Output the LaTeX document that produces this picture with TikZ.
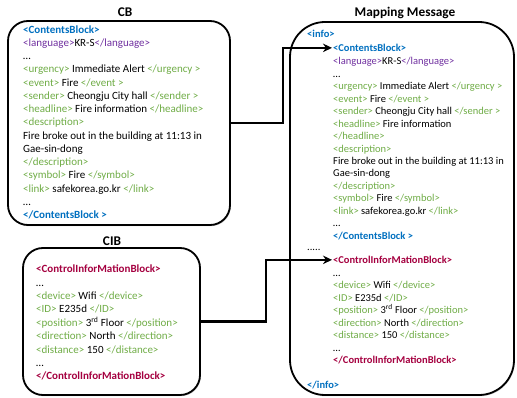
\documentclass[tikz,border=0pt]{standalone}
\usepackage{fontspec}
\setmainfont{Carlito}
\usepackage{tikz}
\usetikzlibrary{arrows,arrows.meta,shadows}
\usepackage{xcolor}
\definecolor{tagblue}{HTML}{0070C0}
\definecolor{tagpurple}{HTML}{7030A0}
\definecolor{taggreen}{HTML}{70AD47}
\definecolor{tagred}{HTML}{A50040}
\newcommand{\gtag}[1]{\textcolor{taggreen}{#1}}
\newcommand{\ptag}[1]{\textcolor{tagpurple}{#1}}
\newcommand{\btag}[1]{\textcolor{tagblue}{\bfseries #1}}
\newcommand{\rtag}[1]{\textcolor{tagred}{\bfseries #1}}
\begin{document}
\begin{tikzpicture}[x=1pt,y=-1pt,>={Stealth[length=9pt,width=8.5pt]}]
  \tikzstyle{blk}=[draw,line width=1.8pt,fill=white,rounded corners=20pt,
    drop shadow={shadow xshift=0.8pt,shadow yshift=-1.2pt,opacity=0.45}]
  \tikzstyle{txt}=[anchor=north west,inner sep=0pt,align=left]
  \tikzstyle{one}=[anchor=base west,inner sep=0pt]
  \tikzstyle{ttl}=[font=\bfseries\fontsize{13.3}{15}\selectfont]
  \tikzstyle{lnk}=[->,line width=2.4pt,shorten >=1pt]
  \useasboundingbox (0,0) rectangle (517,398);
  % boxes
  \node(cb) at (119,123)[blk,minimum width=222pt,minimum height=204pt]{};
  \node(cib) at (111.5,321.5)[blk,minimum width=177pt,minimum height=147pt]{};
  \node(mm) at (402,208.5)[blk,rounded corners=35pt,minimum width=224pt,minimum height=373pt]{};
  \node(cb-ttl) at (125,12)[ttl]{CB};
  \node(cib-ttl) at (112,241)[ttl]{CIB};
  \node(mm-ttl) at (405,13)[ttl]{Mapping Message};
  % CB text
  \node(cb-txt) at (23,23.7)[txt,font=\fontsize{11}{13.25}\selectfont]{\strut\btag{<ContentsBlock>}\\
    \ptag{<language>}KR-S\ptag{</language>}\\
    …\\
    \gtag{<urgency>} Immediate Alert \gtag{</urgency >}\\
    \gtag{<event>} Fire \gtag{</event >}\\
    \gtag{<sender>} Cheongju City hall \gtag{</sender >}\\
    \gtag{<headline>} Fire information \gtag{</headline>}\\
    \gtag{<description>}\\
    Fire broke out in the building at 11:13 in\\
    Gae-sin-dong\\
    \gtag{</description>}\\
    \gtag{<symbol>} Fire \gtag{</symbol>}\\
    \gtag{<link>} safekorea.go.kr \gtag{</link>}\\
    …\\
    \btag{</ContentsBlock >}};
  % CIB text
  \node(cib-txt) at (36,263.1)[txt,font=\fontsize{11}{13.4}\selectfont]{\strut\rtag{<ControlInforMationBlock>}\\
    …\\
    \gtag{<device>} Wifi \gtag{</device>}\\
    \gtag{<ID>} E235d \gtag{</ID>}\\
    \gtag{<position>} 3\textsuperscript{rd} Floor \gtag{</position>}\\
    \gtag{<direction>} North \gtag{</direction>}\\
    \gtag{<distance>} 150 \gtag{</distance>}\\
    …\\
    \rtag{</ControlInforMationBlock>}};
  % mapping message text
  \tikzset{font=\fontsize{10.5}{12.47}\selectfont}
  \node(mm-info) at (307,38)[one]{\btag{<info>}};
  \node(mm-cb) at (333,51.5)[one]{\btag{<ContentsBlock>}};
  \node(mm-cb-txt) at (333,55.8)[txt]{\strut\ptag{<language>}KR-S\ptag{</language>}\\
    …\\
    \gtag{<urgency>} Immediate Alert \gtag{</urgency >}\\
    \gtag{<event>} Fire \gtag{</event >}\\
    \gtag{<sender>} Cheongju City hall \gtag{</sender >}\\
    \gtag{<headline>} Fire information\\
    \gtag{</headline>}\\
    \gtag{<description>}\\
    Fire broke out in the building at 11:13 in\\
    Gae-sin-dong\\
    \gtag{</description>}\\
    \gtag{<symbol>} Fire \gtag{</symbol>}\\
    \gtag{<link>} safekorea.go.kr \gtag{</link>}\\
    …\\
    \btag{</ContentsBlock >}};
  \node(mm-dots) at (307,251)[one]{.....};
  \node(mm-cib) at (333,263.5)[one]{\rtag{<ControlInforMationBlock>}};
  \node(mm-cib-txt) at (333,267.3)[txt]{\strut…\\
    \gtag{<device>} Wifi \gtag{</device>}\\
    \gtag{<ID>} E235d \gtag{</ID>}\\
    \gtag{<position>} 3\textsuperscript{rd} Floor \gtag{</position>}\\
    \gtag{<direction>} North \gtag{</direction>}\\
    \gtag{<distance>} 150 \gtag{</distance>}\\
    …\\
    \rtag{</ControlInforMationBlock>}};
  \node(mm-end) at (307,388)[one]{\btag{</info>}};
  % links
  \draw[lnk](cb.east)--++(52,0)|-(mm-cb.west);
  \draw[lnk](cib.east)--++(65,0)|-(mm-cib.west);
\end{tikzpicture}
\end{document}
